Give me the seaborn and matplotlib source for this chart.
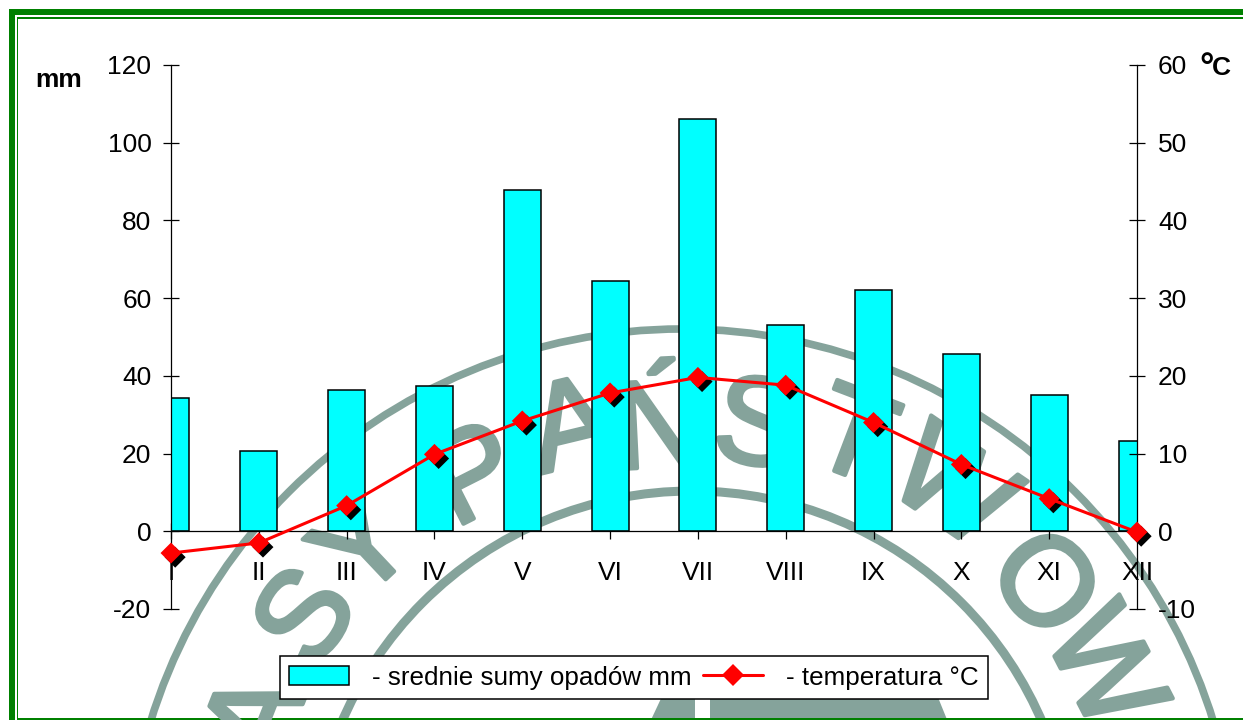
import numpy as np
import matplotlib
matplotlib.use('Agg')
import matplotlib.pyplot as plt
import matplotlib.patheffects as pe
from matplotlib.lines import Line2D
from matplotlib.patches import Circle, Polygon, Rectangle
import seaborn as sns

months = ['I', 'II', 'III', 'IV', 'V', 'VI', 'VII', 'VIII', 'IX', 'X', 'XI', 'XII']
rain_mm = [34.3, 20.7, 36.4, 37.3, 87.8, 64.4, 106.0, 53.2, 62.0, 45.6, 35.0, 23.3]
temp_c = [-2.8, -1.5, 3.3, 9.9, 14.2, 17.8, 19.8, 18.8, 14.0, 8.6, 4.2, -0.1]
rain_ticks = [-20, 0, 20, 40, 60, 80, 100, 120]
temp_ticks = [-10, 0, 10, 20, 30, 40, 50, 60]

# stamp in the background, in pixel coordinates of the image
stamp_letters = ['A', 'S', 'Y', 'P', 'A', 'Ń', 'S', 'T', 'W', 'O', 'W', 'E']
stamp_x = [262, 311, 368, 477, 573, 660, 756, 851, 949, 1039, 1098, 1170]
stamp_y = [720, 621, 552, 481, 433, 435, 432, 443, 493, 588, 671, 770]

W, H = 1243, 720
GREEN = '#008000'
STAMP = '#85a39b'
CENTER = (682, 885)

sns.set_style('white')
plt.rcParams['font.family'] = ['Liberation Sans', 'DejaVu Sans']
plt.rcParams['axes.unicode_minus'] = False

fig = plt.figure(figsize=(W / 100, H / 100), dpi=100, facecolor='white')

# background: stamp and green frame
bg = fig.add_axes([0, 0, 1, 1], zorder=-1)
bg.set_xlim(0, W)
bg.set_ylim(H, 0)
bg.axis('off')
bg.add_patch(Circle(CENTER, 556, fill=False, ec=STAMP, lw=5.5))
bg.add_patch(Circle((692, 872), 381, fill=False, ec=STAMP, lw=6.5))
bg.add_patch(Polygon([(665, 690), (935, 690), (948, 722), (650, 722)], fc=STAMP, ec='none'))
bg.add_patch(Rectangle((695, 690), 15, 32, fc='white', ec='none'))
for letter, lx, ly in zip(stamp_letters, stamp_x, stamp_y):
    angle = np.degrees(np.arctan2(CENTER[0] - lx, CENTER[1] - ly))
    bg.text(lx, ly, letter, color=STAMP, fontsize=90, ha='center', va='center',
            rotation=angle, rotation_mode='anchor', clip_on=True,
            path_effects=[pe.withStroke(linewidth=3, foreground=STAMP)])
bg.add_patch(Rectangle((9, 9), W, 6, fc=GREEN, ec='none'))
bg.add_patch(Rectangle((17, 17), W, 1.5, fc=GREEN, ec='none'))
bg.add_patch(Rectangle((9, 9), 6, H, fc=GREEN, ec='none'))
bg.add_patch(Rectangle((17, 17), 1.5, H, fc=GREEN, ec='none'))
bg.add_patch(Rectangle((17, 717.5), W, 3, fc=GREEN, ec='none'))

# axes from x=171..1137 and y=65..609 px
ax = fig.add_axes([171 / W, 1 - 609 / H, (1137 - 171) / W, (609 - 65) / H])
ax.patch.set_alpha(0)
sns.barplot(x=months, y=rain_mm, color='#00ffff', saturation=1, width=0.42,
            edgecolor='black', linewidth=1.1, ax=ax)
ax.set_xlim(0, 11)
ax.set_ylim(-20, 120)
ax.set_yticks(rain_ticks)
ax.set_xticks(range(len(months)))
ax.set_xticklabels(months)
for s in ['top', 'right']:
    ax.spines[s].set_visible(False)
ax.spines['bottom'].set_position(('data', 0))
ax.spines['bottom'].set_linewidth(0.9)
ax.spines['left'].set_linewidth(0.9)
ax.spines['left'].set_color('black')
ax.spines['bottom'].set_color('black')
ax.tick_params(axis='y', direction='inout', length=12.2, width=0.9, color='black',
               left=True, labelsize=19, pad=8, labelcolor='black')
ax.tick_params(axis='x', direction='inout', length=12.2, width=0.9, color='black',
               bottom=True, labelsize=19, pad=15, labelcolor='black')

ax2 = ax.twinx()
ax2.patch.set_alpha(0)
month_pos = np.arange(len(months))
sns.scatterplot(x=month_pos, y=temp_c, marker='D', s=114, color='red', linewidth=0,
                clip_on=False, zorder=3, ax=ax2,
                path_effects=[pe.withSimplePatchShadow(offset=(3, -3), shadow_rgbFace='black', alpha=1)])
sns.lineplot(x=month_pos, y=temp_c, color='red', linewidth=2.2, clip_on=False,
             errorbar=None, zorder=4, ax=ax2)
ax2.set_ylim(-10, 60)
ax2.set_yticks(temp_ticks)
ax2.set_ylabel('')
for s in ['top', 'left', 'bottom']:
    ax2.spines[s].set_visible(False)
ax2.spines['right'].set_linewidth(0.9)
ax2.spines['right'].set_color('black')
ax2.tick_params(axis='y', direction='inout', length=12.2, width=0.9, color='black',
                right=True, labelsize=19, pad=9, labelcolor='black')

fig.text(35 / W, 1 - 80 / H, 'mm', fontsize=19, fontweight='bold', va='center', color='black')
fig.text(1199 / W, 1 - 68 / H, '°', fontsize=26, fontweight='bold', va='center', color='black')
fig.text(1212 / W, 1 - 68 / H, 'C', fontsize=19, fontweight='bold', va='center', color='black')

handles = [Rectangle((0, 0), 1, 1, fc='#00ffff', ec='black', lw=1.1),
           Line2D([], [], color='red', lw=2.2, marker='D', ms=11.5, mew=0)]
ax2.legend(handles, ['- srednie sumy opadów mm', '- temperatura °C'], ncol=2,
           loc='center', bbox_to_anchor=(634 / W, 1 - 677.5 / H), bbox_transform=fig.transFigure,
           fontsize=18.7, fancybox=False, framealpha=1, edgecolor='black', labelcolor='black',
           handlelength=2.3, handleheight=0.75, handletextpad=0.9, columnspacing=0.45,
           borderpad=0.36, borderaxespad=0).get_frame().set_linewidth(1.1)

fig.savefig('out.png', dpi=100)
